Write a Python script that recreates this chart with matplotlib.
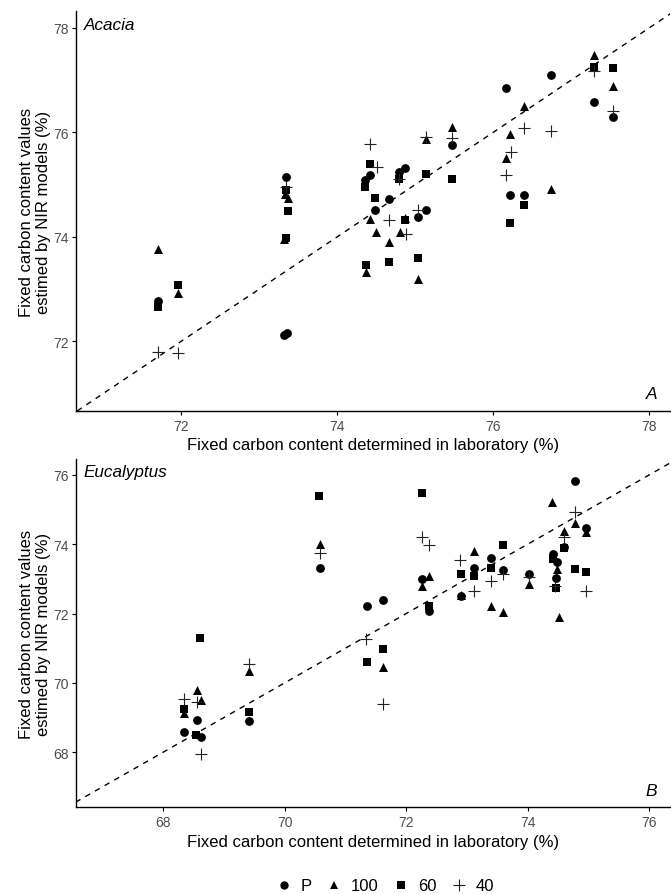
import numpy as np
import matplotlib
matplotlib.use('Agg')
import matplotlib.pyplot as plt
from matplotlib.lines import Line2D

plt.rcParams['font.family'] = ['Liberation Sans', 'DejaVu Sans']

# Acacia (panel A): laboratory value (x) vs NIR estimate (y)
aca_P_x = [71.70, 73.32, 73.36, 73.35, 74.42, 74.36, 74.66, 74.49, 74.79, 74.87,
           75.04, 75.14, 75.47, 76.16, 76.22, 76.39, 76.74, 77.29, 77.53]
aca_P_y = [72.77, 72.12, 72.17, 75.15, 75.18, 75.08, 74.73, 74.52, 75.24, 75.31,
           74.38, 74.52, 75.75, 76.85, 74.80, 74.80, 77.10, 76.58, 76.29]
aca_100_x = [71.70, 71.96, 73.33, 73.37, 73.32, 74.42, 74.50, 74.66, 74.80, 74.87,
             75.04, 74.37, 75.14, 75.47, 76.22, 76.16, 76.39, 76.74, 77.29, 77.53]
aca_100_y = [73.76, 72.92, 74.83, 74.75, 73.97, 74.35, 74.10, 73.90, 74.10, 74.37,
             73.20, 73.32, 75.88, 76.10, 75.97, 75.51, 76.50, 74.92, 77.48, 76.89]
aca_60_x = [71.70, 71.96, 73.35, 73.37, 73.34, 74.42, 74.36, 74.49, 74.79, 74.87,
            75.14, 75.04, 74.66, 74.37, 75.47, 76.22, 76.39, 77.29, 77.53]
aca_60_y = [72.66, 73.08, 74.90, 74.49, 73.98, 75.39, 74.96, 74.75, 75.10, 74.32,
            75.20, 73.60, 73.52, 73.47, 75.11, 74.27, 74.62, 77.26, 77.24]
aca_40_x = [71.70, 71.96, 73.35, 74.42, 74.51, 74.67, 74.88, 74.79, 75.04, 75.14,
            75.47, 76.23, 76.16, 76.39, 76.74, 77.29, 77.53]
aca_40_y = [71.80, 71.77, 74.96, 75.77, 75.34, 74.33, 74.06, 75.10, 74.51, 75.91,
            75.90, 75.62, 75.18, 76.08, 76.03, 77.17, 76.41]

# Eucalyptus (panel B)
euc_P_x = [68.35, 68.55, 68.63, 69.41, 70.58, 71.36, 71.62, 72.27, 72.38, 72.90,
           73.11, 73.40, 73.59, 74.02, 74.42, 74.49, 74.47, 74.60, 74.78, 74.96]
euc_P_y = [68.59, 68.93, 68.45, 68.91, 73.31, 72.23, 72.39, 73.00, 72.08, 72.52,
           73.31, 73.60, 73.26, 73.14, 73.72, 73.48, 73.02, 73.91, 75.82, 74.46]
euc_100_x = [68.35, 68.55, 68.63, 69.41, 70.58, 71.62, 72.27, 72.38, 72.90, 73.11,
             73.39, 73.59, 74.02, 74.40, 74.49, 74.51, 74.60, 74.78, 74.96]
euc_100_y = [69.13, 69.80, 69.51, 70.33, 74.01, 70.45, 72.81, 73.09, 72.55, 73.82,
             72.23, 72.04, 72.85, 75.23, 73.29, 71.91, 74.39, 74.61, 74.36]
euc_60_x = [68.35, 68.54, 68.61, 69.41, 70.57, 71.35, 71.62, 72.27, 72.38, 72.90,
            73.11, 73.40, 73.59, 74.42, 74.47, 74.60, 74.78, 74.96]
euc_60_y = [69.25, 68.50, 71.30, 69.17, 75.40, 70.61, 70.98, 75.48, 72.22, 73.14,
            73.09, 73.32, 73.99, 73.58, 72.74, 73.88, 73.29, 73.19]
euc_40_x = [68.35, 68.55, 68.63, 69.41, 70.58, 71.34, 71.62, 72.27, 72.38, 72.88,
            73.11, 73.40, 73.59, 74.02, 74.45, 74.60, 74.78, 74.96]
euc_40_y = [69.54, 69.46, 67.95, 70.55, 73.75, 71.27, 69.39, 74.20, 73.99, 73.56,
            72.66, 72.95, 73.14, 73.05, 72.81, 74.20, 74.94, 72.66]

series_labels = ['P', '100', '60', '40']
markers = ['o', '^', 's', '+']
msizes = [40, 42, 34, 85]

fig = plt.figure(figsize=(6.71, 8.95), dpi=100)
ax1 = fig.add_axes([0.1127, 0.5397, 0.8863, 0.4473])
ax2 = fig.add_axes([0.1127, 0.0972, 0.8863, 0.3888])

panels = [
    (ax1, [(aca_P_x, aca_P_y), (aca_100_x, aca_100_y), (aca_60_x, aca_60_y), (aca_40_x, aca_40_y)],
     (70.65, 78.27), (70.67, 78.33), [72, 74, 76, 78], 'Acacia', 'A'),
    (ax2, [(euc_P_x, euc_P_y), (euc_100_x, euc_100_y), (euc_60_x, euc_60_y), (euc_40_x, euc_40_y)],
     (66.56, 76.35), (66.42, 76.46), [68, 70, 72, 74, 76], 'Eucalyptus', 'B'),
]

for ax, data, xl, yl, ticks, name, letter in panels:
    for (x, y), m, s in zip(data, markers, msizes):
        if m == '+':
            ax.scatter(x, y, marker=m, s=s, c='#222222', linewidths=0.8, zorder=3)
        else:
            ax.scatter(x, y, marker=m, s=s, c='black', linewidths=0, zorder=3)
    ax.axline((70, 70), slope=1, color='black', lw=1, linestyle=(0, (4, 4)), zorder=2)
    ax.set_xlim(xl)
    ax.set_ylim(yl)
    ax.set_xticks(ticks)
    ax.set_yticks(ticks)
    for sp in ['top', 'right']:
        ax.spines[sp].set_visible(False)
    for sp in ['left', 'bottom']:
        ax.spines[sp].set_linewidth(1.0)
    ax.tick_params(length=3, width=0.8, pad=2, labelsize=10, labelcolor='#4D4D4D')
    ax.tick_params(axis='x', pad=3)
    ax.set_xlabel('Fixed carbon content determined in laboratory (%)', fontsize=12, labelpad=3)
    ax.text(0.013, 0.985, name, transform=ax.transAxes, style='italic', fontsize=12.3,
            ha='left', va='top')
    ax.text(0.978, 0.025, letter, transform=ax.transAxes, style='italic', fontsize=12.5,
            ha='right', va='bottom')

ylab = 'Fixed carbon content values\nestimed by NIR models (%)'
fig.text(35 / 671, 0.763, ylab, rotation=90, ha='center', va='center',
         multialignment='center', fontsize=12)
fig.text(35 / 671, 0.2916, ylab, rotation=90, ha='center', va='center',
         multialignment='center', fontsize=12)

handles = []
for lab, m in zip(series_labels, markers):
    if m == '+':
        handles.append(Line2D([], [], marker=m, color='#222222', ls='', markersize=9,
                              markeredgewidth=0.8, label=lab))
    else:
        handles.append(Line2D([], [], marker=m, color='black', ls='', markersize=6,
                              markeredgewidth=0, label=lab))
fig.legend(handles=handles, loc='center', bbox_to_anchor=(385 / 671, 1 - 887 / 895),
           ncol=4, frameon=False, fontsize=12, handlelength=1.0, handletextpad=0.5,
           columnspacing=0.85, borderpad=0)

fig.savefig('out.png', dpi=100)
